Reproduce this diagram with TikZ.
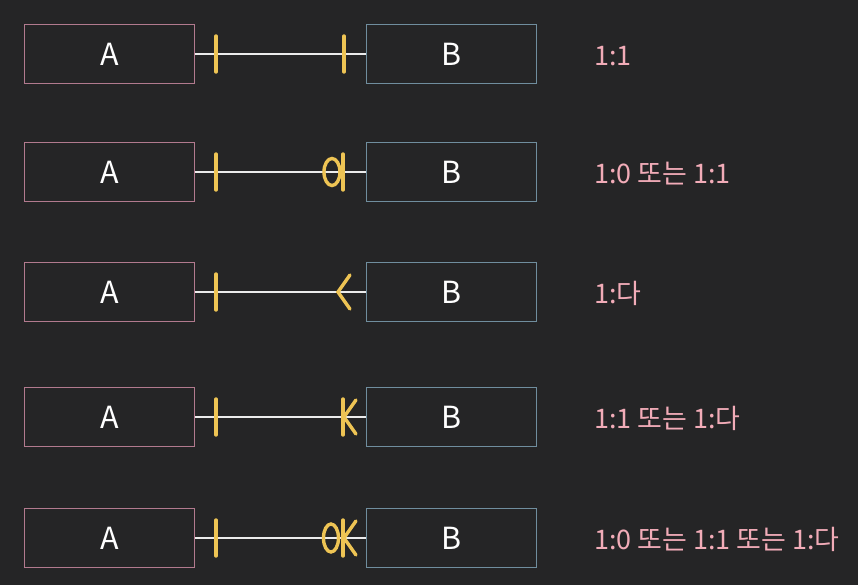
\documentclass[tikz,border=0pt]{standalone}
\usepackage{fontspec}
\setmainfont{Noto Sans CJK KR}
\usetikzlibrary{calc}
\definecolor{BgDark}{RGB}{37,37,38}
\definecolor{EntityA}{RGB}{178,122,142}
\definecolor{EntityB}{RGB}{112,142,158}
\definecolor{RelLine}{RGB}{236,236,236}
\definecolor{SignYellow}{RGB}{238,196,84}
\definecolor{NotePink}{RGB}{242,172,184}

\begin{document}
\begin{tikzpicture}[x=0.03cm,y=-0.03cm,
        entity/.style={rectangle,line width=0.9pt,minimum width=5.1cm,
                       minimum height=1.77cm,inner sep=0pt,text=white,
                       font=\fontsize{26}{30}\selectfont},
        enta/.style={entity,draw=EntityA},
        entb/.style={entity,draw=EntityB},
        rel/.style={draw=RelLine,line width=2pt},
        sign/.style={draw=SignYellow,line width=2.9pt,line cap=round},
        note/.style={anchor=base west,inner sep=0pt,text=NotePink,
                     font=\fontsize{23}{27}\selectfont}
      ]
        \fill[BgDark] (0,0) rectangle (858,585);
        % entities
        \node[enta] (a1) at (109.5,54) {A};
        \node[entb] (b1) at (451.5,54) {B};
        \node[enta] (a2) at (109.5,172) {A};
        \node[entb] (b2) at (451.5,172) {B};
        \node[enta] (a3) at (109.5,292) {A};
        \node[entb] (b3) at (451.5,292) {B};
        \node[enta] (a4) at (109.5,417) {A};
        \node[entb] (b4) at (451.5,417) {B};
        \node[enta] (a5) at (109.5,538) {A};
        \node[entb] (b5) at (451.5,538) {B};
        % relationships
        \draw[rel] (a1.east) -- (b1.west);
        \draw[rel] (a2.east) -- (b2.west);
        \draw[rel] (a3.east) -- (b3.west);
        \draw[rel] (a4.east) -- (b4.west);
        \draw[rel] (a5.east) -- (b5.west);
        % 1:1
        \draw[sign] ($(a1.east)+(21,-18)$) -- ($(a1.east)+(21,18)$);
        \draw[sign] ($(b1.west)+(-22,-18)$) -- ($(b1.west)+(-22,18)$);
        % 1:0 or 1:1
        \draw[sign] ($(a2.east)+(21,-18)$) -- ($(a2.east)+(21,18)$);
        \draw[sign] ($(b2.west)+(-34,0)$) ellipse (8 and 13.5);
        \draw[sign] ($(b2.west)+(-23,-18)$) -- ($(b2.west)+(-23,18)$);
        % 1:many
        \draw[sign] ($(a3.east)+(21,-18)$) -- ($(a3.east)+(21,18)$);
        \draw[sign] ($(b3.west)+(-16,-17)$) -- ($(b3.west)+(-28,0)$)
          -- ($(b3.west)+(-16,17)$);
        % 1:1 or 1:many
        \draw[sign] ($(a4.east)+(21,-18)$) -- ($(a4.east)+(21,18)$);
        \draw[sign] ($(b4.west)+(-23,-18)$) -- ($(b4.west)+(-23,18)$);
        \draw[sign] ($(b4.west)+(-10,-17)$) -- ($(b4.west)+(-22,0)$)
          -- ($(b4.west)+(-10,17)$);
        % 1:0 or 1:1 or 1:many
        \draw[sign] ($(a5.east)+(21,-18)$) -- ($(a5.east)+(21,18)$);
        \draw[sign] ($(b5.west)+(-35,0)$) ellipse (7.5 and 14);
        \draw[sign] ($(b5.west)+(-23,-18)$) -- ($(b5.west)+(-23,18)$);
        \draw[sign] ($(b5.west)+(-10,-17)$) -- ($(b5.west)+(-22,0)$)
          -- ($(b5.west)+(-10,17)$);
        % cardinality notes
        \node[note] (n1) at (594,65) {1:1};
        \node[note] (n2) at (594,183) {1:0 또는 1:1};
        \node[note] (n3) at (594,303) {1:다};
        \node[note] (n4) at (594,428) {1:1 또는 1:다};
        \node[note] (n5) at (594,549) {1:0 또는 1:1 또는 1:다};
      \end{tikzpicture}
\end{document}
